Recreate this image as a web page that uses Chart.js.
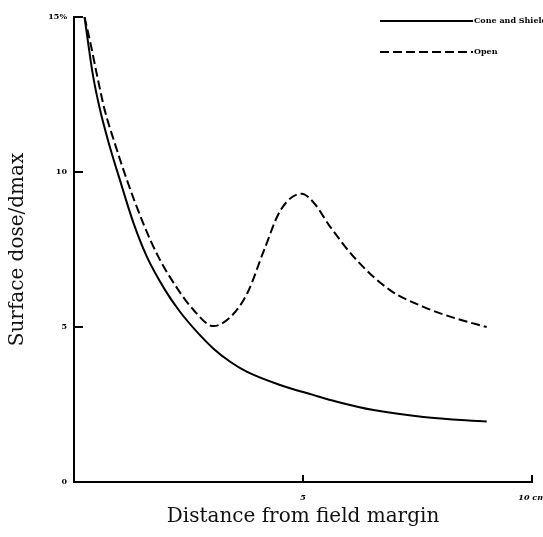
<!DOCTYPE html>
<html>
<head>
<meta charset="utf-8">
<script src="https://cdn.jsdelivr.net/npm/chart.js@4.4.1/dist/chart.umd.min.js"></script>
<style>
  html, body { margin: 0; padding: 0; background: #fff; }
  #wrap { width: 543px; height: 537px; }
</style>
</head>
<body>
<div id="wrap"><canvas id="grafico" width="543" height="537"></canvas></div>
<script>
// Datos (distancia en cm, dosis en %)
const coneX = [0.23, 0.31, 0.42, 0.57, 0.76, 0.98, 1.30, 1.59, 1.99, 2.31, 2.68, 3.04, 3.41, 3.77, 4.50, 5.22, 5.74, 6.54, 7.63, 9.01];
const coneY = [15.0, 14.15, 13.07, 12.0, 10.93, 9.85, 8.35, 7.27, 6.19, 5.5, 4.85, 4.31, 3.88, 3.56, 3.13, 2.81, 2.59, 2.32, 2.1, 1.95];

const openX = [0.23, 0.36, 0.51, 0.67, 0.89, 1.13, 1.51, 1.84, 2.28, 2.61, 3.04, 3.42, 3.78, 4.15, 4.51, 4.97, 5.24, 5.59, 6.17, 6.90, 7.63, 8.35, 9.01];
const openY = [15.0, 14.15, 13.07, 12.0, 10.93, 9.85, 8.35, 7.27, 6.19, 5.55, 5.03, 5.33, 6.08, 7.48, 8.77, 9.3, 9.0, 8.24, 7.16, 6.19, 5.65, 5.27, 5.0];

const seriesNames = ['Cone and Shield', 'Open'];
const xTicks = [5, 10];
const xTickLabels = ['5', '10 cm'];
const yTicks = [0, 5, 10, 15];
const yTickLabels = ['0', '5', '10', '15%'];

const serif = "'DejaVu Serif', 'Liberation Serif', serif";

function puntos(xs, ys) {
  return xs.map((x, i) => ({ x: x, y: ys[i] }));
}

// marcas de los ejes hacia dentro
const marcasEjes = {
  id: 'marcasEjes',
  afterDraw(chart) {
    const ctx = chart.ctx;
    const sx = chart.scales.x;
    const sy = chart.scales.y;
    ctx.save();
    ctx.strokeStyle = '#000';
    ctx.lineWidth = 2;
    yTicks.forEach(v => {
      if (v === 0) return;
      const py = sy.getPixelForValue(v);
      ctx.beginPath();
      ctx.moveTo(sx.left, py);
      ctx.lineTo(sx.left + 9, py);
      ctx.stroke();
    });
    xTicks.forEach(v => {
      const px = sx.getPixelForValue(v);
      ctx.beginPath();
      ctx.moveTo(px, sy.bottom);
      ctx.lineTo(px, sy.bottom - 7);
      ctx.stroke();
    });
    ctx.restore();
  }
};

// leyenda dibujada arriba a la derecha
const leyenda = {
  id: 'leyenda',
  afterDraw(chart) {
    const ctx = chart.ctx;
    ctx.save();
    ctx.font = "bold 8px " + serif;
    ctx.textBaseline = 'middle';
    ctx.fillStyle = '#000';
    chart.data.datasets.forEach((ds, i) => {
      const y = 21 + i * 31;
      ctx.strokeStyle = ds.borderColor;
      ctx.lineWidth = 2;
      ctx.setLineDash(ds.borderDash || []);
      ctx.beginPath();
      ctx.moveTo(380, y);
      ctx.lineTo(473, y);
      ctx.stroke();
      ctx.setLineDash([]);
      ctx.fillText(ds.label, 474, y);
    });
    ctx.restore();
  }
};

new Chart(document.getElementById('grafico'), {
  type: 'line',
  data: {
    datasets: [{
      label: seriesNames[0],
      data: puntos(coneX, coneY),
      borderColor: '#000',
      borderWidth: 2,
      pointRadius: 0,
      cubicInterpolationMode: 'monotone',
      fill: false
    }, {
      label: seriesNames[1],
      data: puntos(openX, openY),
      borderColor: '#000',
      borderWidth: 2,
      borderDash: [9, 4],
      pointRadius: 0,
      cubicInterpolationMode: 'monotone',
      fill: false
    }]
  },
  options: {
    responsive: false,
    animation: false,
    devicePixelRatio: 1,
    layout: { padding: { top: 17, right: 11, left: 0, bottom: 0 } },
    plugins: {
      legend: { display: false },
      tooltip: { enabled: false }
    },
    scales: {
      x: {
        type: 'linear',
        min: 0,
        max: 10,
        afterBuildTicks: s => { s.ticks = xTicks.map(v => ({ value: v })); },
        afterFit: s => { s.height = 55; s.paddingLeft = 0; s.paddingRight = 0; },
        grid: { display: false, drawTicks: false },
        border: { display: true, color: '#000', width: 2 },
        ticks: {
          padding: 11,
          color: '#000',
          font: { family: serif, size: 8, weight: 'bold', style: 'italic' },
          callback: v => xTickLabels[xTicks.indexOf(v)]
        },
        title: {
          display: true,
          text: 'Distance from field margin',
          color: '#111',
          font: { family: serif, size: 20 },
          padding: { top: 0, bottom: 8 }
        }
      },
      y: {
        type: 'linear',
        min: 0,
        max: 15,
        afterBuildTicks: s => { s.ticks = yTicks.map(v => ({ value: v })); },
        afterFit: s => { s.width = 74; s.paddingTop = 0; s.paddingBottom = 0; },
        grid: { display: false, drawTicks: false },
        border: { display: true, color: '#000', width: 2 },
        ticks: {
          padding: 7,
          color: '#000',
          font: { family: serif, size: 8, weight: 'bold' },
          callback: v => yTickLabels[yTicks.indexOf(v)]
        },
        title: {
          display: true,
          text: 'Surface dose/dmax',
          color: '#111',
          font: { family: serif, size: 20 },
          padding: { top: 6, bottom: 0 }
        }
      }
    }
  },
  plugins: [marcasEjes, leyenda]
});
</script>
</body>
</html>
